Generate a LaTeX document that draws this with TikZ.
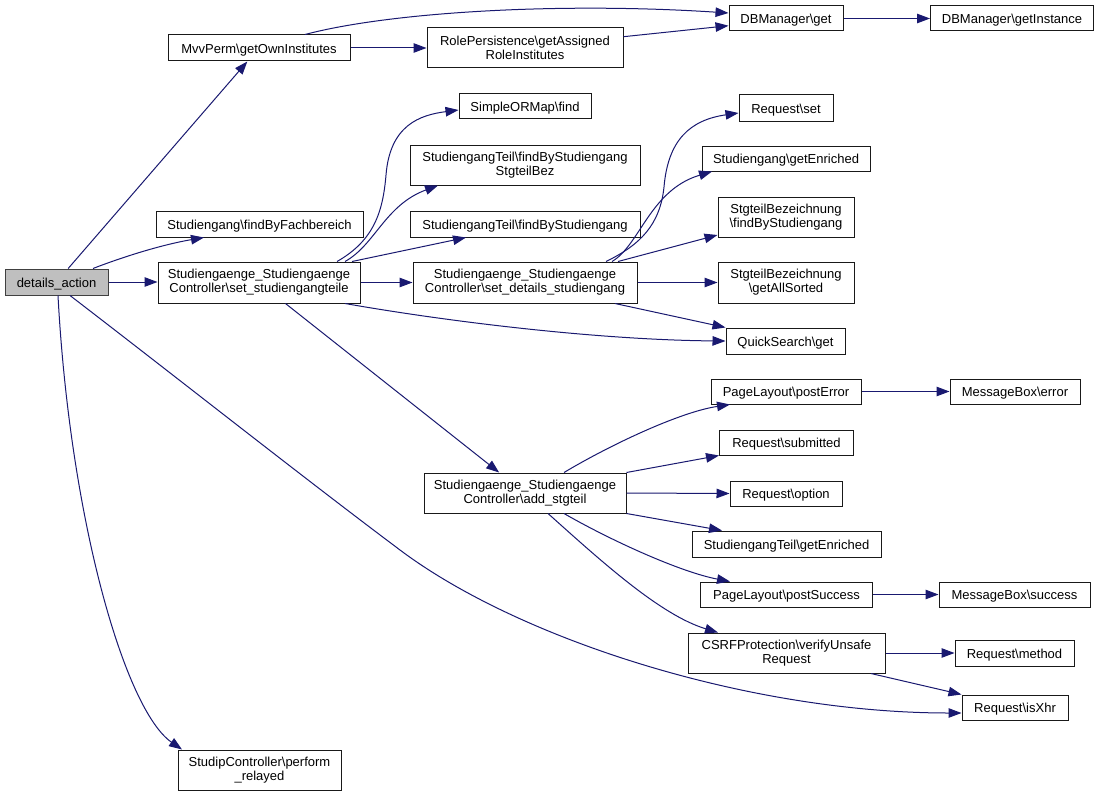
\documentclass[tikz,border=0pt]{standalone}
\usepackage{fontspec}
\setmainfont{Liberation Sans}
\usetikzlibrary{arrows.meta}
\definecolor{edgeblue}{HTML}{191970}
\definecolor{rootgray}{HTML}{BFBFBF}
\begin{document}
\begin{tikzpicture}[x=1pt,y=-1pt,
  box/.style={draw=black!90, line width=1pt, fill=white, inner sep=0pt, align=center,
    font=\fontsize{13}{14}\selectfont, execute at begin node={\rule{0pt}{13pt}}},
  rootbox/.style={box, draw=black!75, fill=rootgray},
  e/.style={draw=edgeblue, line width=1pt, -{Triangle[length=13pt,width=9.5pt]}}]
\useasboundingbox (0,0) rectangle (1099,797);
\fill[white] (0,0) rectangle (1099,797);

% nodes
\node[rootbox, minimum width=103pt, minimum height=26pt] (da) at (56.5,282) {details\_action};
\node[box, minimum width=182pt, minimum height=26pt] (mvv) at (259,48) {MvvPerm\textbackslash getOwnInstitutes};
\node[box, minimum width=207pt, minimum height=26pt] (fach) at (259.5,224) {Studiengang\textbackslash findByFachbereich};
\node[box, minimum width=202pt, minimum height=41pt] (sst) at (259,282.5) {Studiengaenge\_Studiengaenge\\Controller\textbackslash set\_studiengangteile};
\node[box, minimum width=163pt, minimum height=40pt] (stud) at (259.5,770) {StudipController\textbackslash perform\\\_relayed};
\node[box, minimum width=196pt, minimum height=40pt] (role) at (525,48) {RolePersistence\textbackslash getAssigned\\RoleInstitutes};
\node[box, minimum width=132pt, minimum height=25pt] (find) at (525,106.5) {SimpleORMap\textbackslash find};
\node[box, minimum width=230pt, minimum height=40pt] (ftb) at (525,165) {StudiengangTeil\textbackslash findByStudiengang\\StgteilBez};
\node[box, minimum width=230pt, minimum height=26pt] (fs) at (525,224) {StudiengangTeil\textbackslash findByStudiengang};
\node[box, minimum width=224pt, minimum height=41pt] (sds) at (525,282.5) {Studiengaenge\_Studiengaenge\\Controller\textbackslash set\_details\_studiengang};
\node[box, minimum width=202pt, minimum height=40pt] (add) at (525,493) {Studiengaenge\_Studiengaenge\\Controller\textbackslash add\_stgteil};
\node[box, minimum width=114pt, minimum height=25pt] (dbget) at (786,18.5) {DBManager\textbackslash get};
\node[box, minimum width=163pt, minimum height=25pt] (dbinst) at (1012,18.5) {DBManager\textbackslash getInstance};
\node[box, minimum width=94pt, minimum height=26pt] (rset) at (786,108) {Request\textbackslash set};
\node[box, minimum width=168pt, minimum height=25pt] (sge) at (786,158.5) {Studiengang\textbackslash getEnriched};
\node[box, minimum width=136pt, minimum height=40pt] (sbf) at (786,217) {StgteilBezeichnung\\\textbackslash findByStudiengang};
\node[box, minimum width=136pt, minimum height=41pt] (sbg) at (786,282.5) {StgteilBezeichnung\\\textbackslash getAllSorted};
\node[box, minimum width=119pt, minimum height=26pt] (qs) at (785.5,341) {QuickSearch\textbackslash get};
\node[box, minimum width=150pt, minimum height=25pt] (pe) at (786,391.5) {PageLayout\textbackslash postError};
\node[box, minimum width=130pt, minimum height=25pt] (mbe) at (1015,391.5) {MessageBox\textbackslash error};
\node[box, minimum width=134pt, minimum height=25pt] (rsub) at (786.5,442.5) {Request\textbackslash submitted};
\node[box, minimum width=112pt, minimum height=25pt] (ropt) at (786,493.5) {Request\textbackslash option};
\node[box, minimum width=189pt, minimum height=26pt] (stge) at (786.5,544) {StudiengangTeil\textbackslash getEnriched};
\node[box, minimum width=172pt, minimum height=25pt] (ps) at (786.5,594.5) {PageLayout\textbackslash postSuccess};
\node[box, minimum width=151pt, minimum height=25pt] (mbs) at (1014.5,594.5) {MessageBox\textbackslash success};
\node[box, minimum width=197pt, minimum height=40pt] (csrf) at (786.5,653) {CSRFProtection\textbackslash verifyUnsafe\\Request};
\node[box, minimum width=119pt, minimum height=26pt] (rmeth) at (1014.5,653) {Request\textbackslash method};
\node[box, minimum width=106pt, minimum height=25pt] (xhr) at (1015,707.5) {Request\textbackslash isXhr};

% edges from details_action
\draw[e] (da) -- (mvv);
\draw[e] (93,0 |- da.north) .. controls (120,258) and (160,245) .. (204,0 |- fach.south);
\draw[e] (da.east) -- (sst.west |- da.east);
\draw[e] (58,0 |- da.south) .. controls (70,520) and (125,710) .. (182,0 |- stud.north);
\draw[e] (70,0 |- da.south) .. controls (180,380) and (300,475) .. (400,550)
   .. controls (520,640) and (750,713) .. (xhr.west |- 0,713);

% MvvPerm
\draw[e] (mvv.east) -- (role.west);
\draw[e] (305,0 |- mvv.north) .. controls (390,12) and (560,2) .. (dbget.west |- 0,13);
\draw[e] (role.east |- 0,36.7) -- (dbget.west |- 0,25.7);
\draw[e] (dbget) -- (dbinst);

% set_studiengangteile
\draw[e] (337,0 |- sst.north) .. controls (375,240) and (383,210) .. (386,175)
   .. controls (390,125) and (420,115) .. (find.west |- 0,110);
\draw[e] (345,0 |- sst.north) .. controls (375,245) and (385,205) .. (438,0 |- ftb.south);
\draw[e] (352,0 |- sst.north) -- (466,0 |- fs.south);
\draw[e] (sst.east) -- (sds.west);
\draw[e] (345,0 |- sst.south) .. controls (450,322) and (600,340) .. (qs.west);
\draw[e] (sst) -- (add);

% set_details_studiengang
\draw[e] (606,0 |- sds.north) .. controls (640,245) and (660,225) .. (664,187)
   .. controls (668,140) and (690,120) .. (rset.west |- 0,113);
\draw[e] (612,0 |- sds.north) .. controls (640,245) and (650,190) .. (712,0 |- sge.south);
\draw[e] (618,0 |- sds.north) -- (sbf.west |- 0,235);
\draw[e] (sds.east) -- (sbg.west);
\draw[e] (615,0 |- sds.south) -- (qs.north west);

% add_stgteil
\draw[e] (564,0 |- add.north) .. controls (610,445) and (680,412) .. (730,0 |- pe.south);
\draw[e] (add.north east) -- (rsub.south west);
\draw[e] (add.east) -- (ropt.west);
\draw[e] (add.south east) -- (722,0 |- stge.north);
\draw[e] (564,0 |- add.south) .. controls (610,540) and (680,572) .. (730,0 |- ps.north);
\draw[e] (548,0 |- add.south) .. controls (600,560) and (660,615) .. (718,0 |- csrf.north);

% second level
\draw[e] (pe) -- (mbe);
\draw[e] (ps) -- (mbs);
\draw[e] (csrf) -- (rmeth);
\draw[e] (871,0 |- csrf.south) -- (xhr.north west);
\end{tikzpicture}
\end{document}
